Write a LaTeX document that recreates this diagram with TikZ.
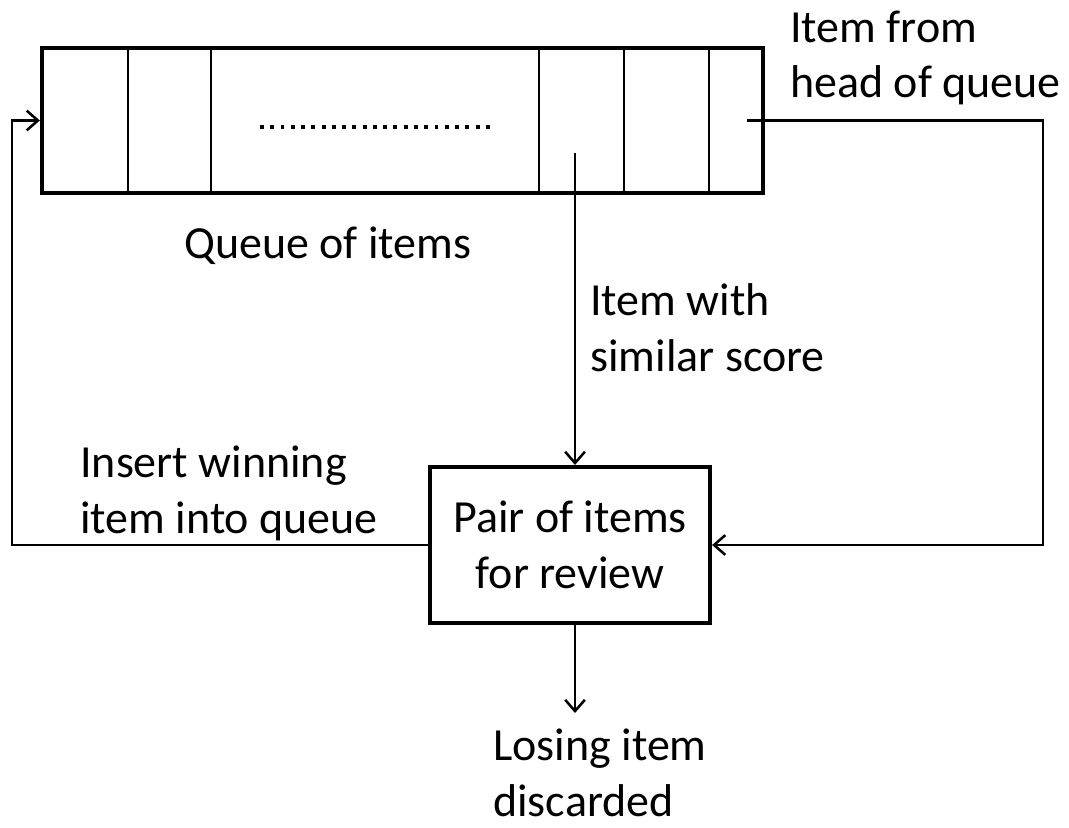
\documentclass[tikz,border=0pt]{standalone}
\usepackage{fontspec}
\setmainfont{Carlito}
\usetikzlibrary{arrows.meta}
\tikzset{
  txt/.style={font=\fontsize{32.7}{39.8}\selectfont},
  lbl/.style={txt,anchor=base west,align=left,inner sep=0pt},
  frame/.style={draw,line width=2.9pt,inner sep=0pt},
  conn/.style={line width=1.8pt,-{Straight Barb[length=8pt,width=14pt]}},
}
\begin{document}
\begin{tikzpicture}[x=0.025cm,y=-0.025cm]
  \useasboundingbox (0,0) rectangle (1069,827);

  % Queue
  \node[frame,minimum width=18.025cm,minimum height=3.625cm] (queue) at (402.5,120.5) {};
  \foreach \x in {128,211,539,624,709}
    \draw[line width=1.3pt] (\x,0 |- queue.north) -- (\x,0 |- queue.south);
  \draw[line width=2.8pt,dash pattern=on 2.8pt off 4.5pt] (260,127) -- (490,127);
  \node[lbl] (qlbl) at (184,258) {Queue of items};

  % Review box
  \node[frame,txt,align=center,minimum width=7cm,minimum height=3.9cm] (pair) at (570,545) {Pair of items\\for review};

  % Labels (anchored on the last line)
  \node[lbl] (headlbl) at (790,98) {Item from\\head of queue};
  \node[lbl] (simlbl) at (590,371) {Item with\\similar score};
  \node[lbl] (inslbl) at (80,533) {Insert winning\\item into queue};
  \node[lbl] (loselbl) at (493,816) {Losing item\\discarded};

  % Connectors
  \coordinate (head) at (747,120.5);
  \coordinate (turn) at (1043,120.5);
  \coordinate (similar) at (575,153);
  \coordinate (back) at (12,0);
  \coordinate (lose) at (575,713);
  \draw[conn] (head) -- (turn) |- (pair.east);
  \draw[conn] (similar) -- (similar |- pair.north);
  \draw[conn] (pair.west) -| (back |- queue.west) -- (queue.west);
  \draw[conn] (pair.south -| lose) -- (lose);
\end{tikzpicture}
\end{document}
